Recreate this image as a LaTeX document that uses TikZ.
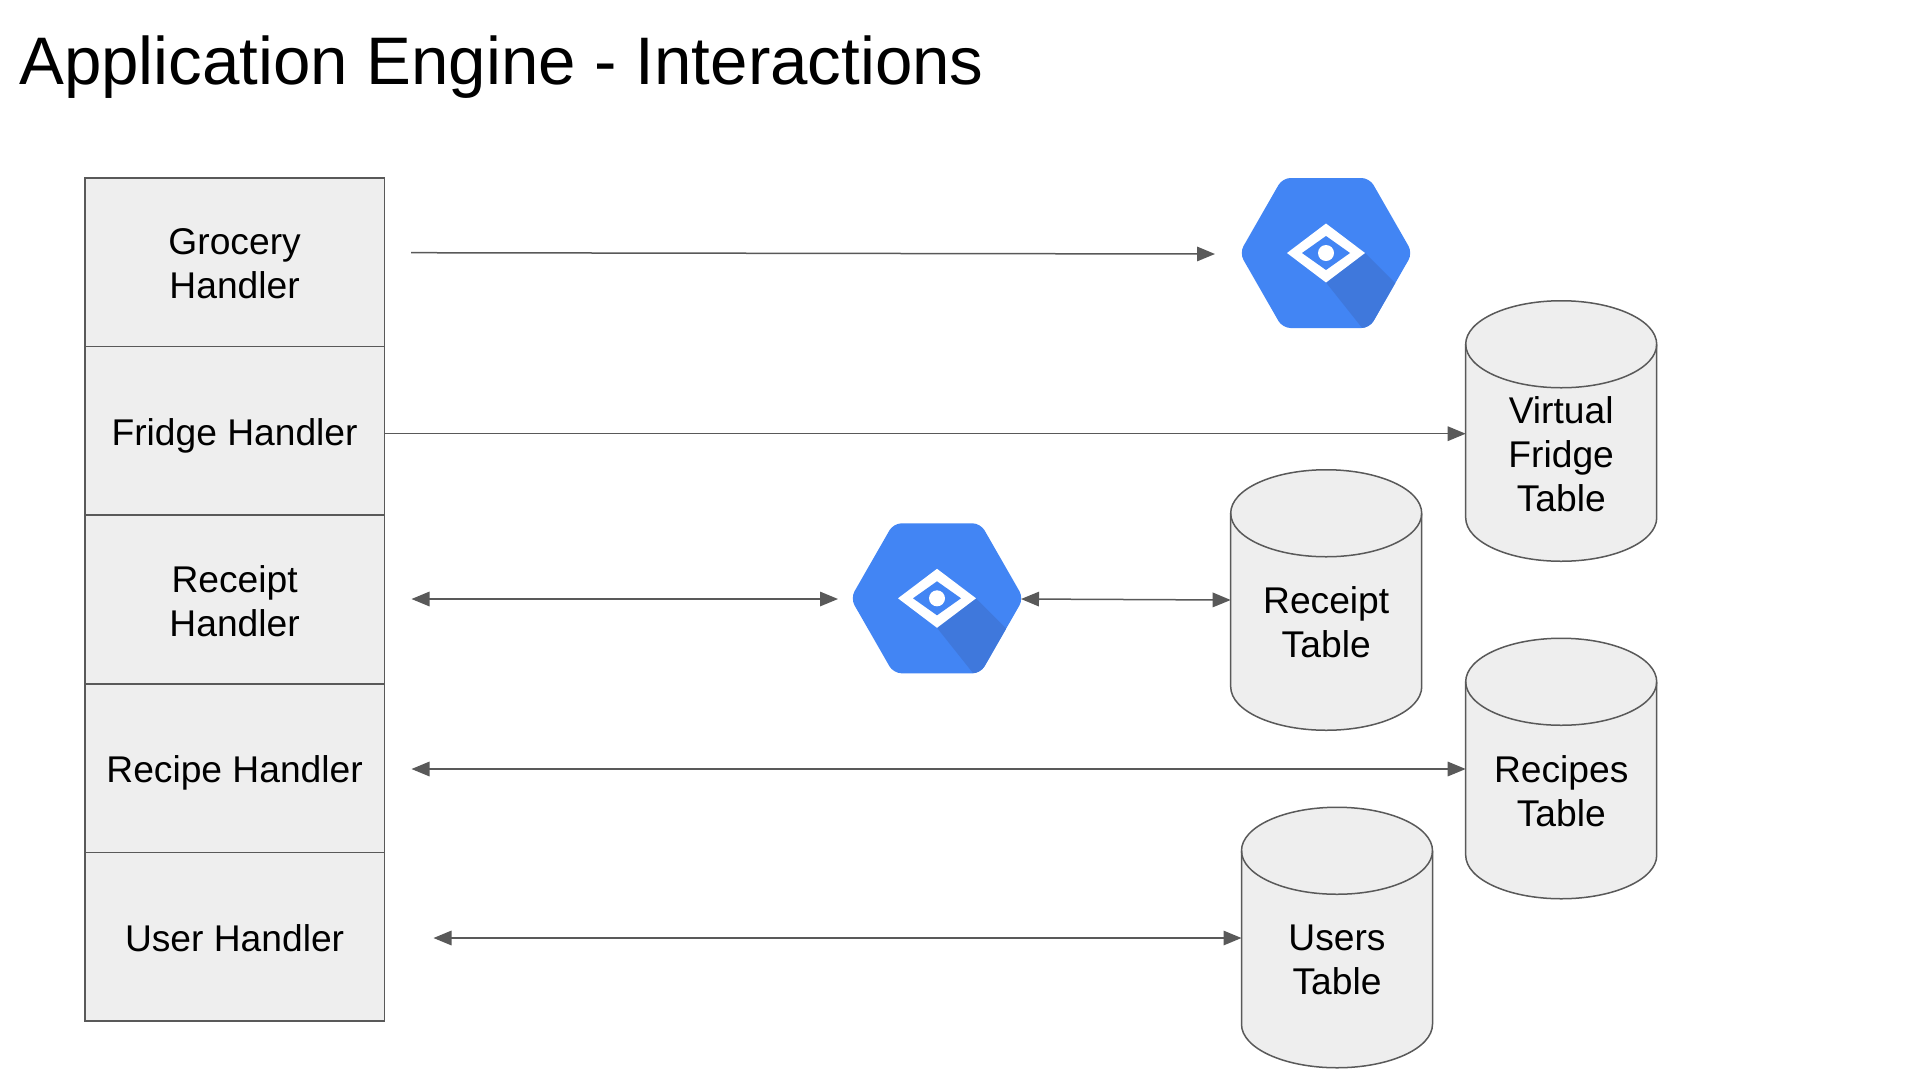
\documentclass[tikz,border=0pt]{standalone}
\usepackage{fontspec}
\setmainfont{Liberation Sans}
\usetikzlibrary{arrows.meta}
\definecolor{edgegrey}{HTML}{595959}
\definecolor{cellfill}{HTML}{EEEEEE}
\definecolor{hexblue}{HTML}{4285F4}
\definecolor{hexshade}{HTML}{3F78DC}
\tikzset{
  handler/.style={draw=edgegrey,fill=cellfill,line width=1.5pt,minimum width=299.5pt,minimum height=168.6pt,
    inner sep=0pt,outer sep=0pt,align=center,font=\fontsize{37.2}{44}\selectfont,text=black,
    text height=29pt,text depth=0pt},
  handlertwo/.style={handler,text height=73pt},
  dbanchor/.style={rectangle,minimum width=191pt,minimum height=260.5pt,inner sep=0pt,outer sep=0pt},
  dbtext/.style={inner sep=0pt,align=center,font=\fontsize{37.2}{44}\selectfont,text=black},
  hexanchor/.style={circle,minimum size=168pt,inner sep=0pt,outer sep=0pt},
  link/.style={draw=edgegrey,line width=1.5pt},
  oneway/.style={link,-{Triangle[length=18pt,width=14.5pt]}},
  twoway/.style={link,{Triangle[length=18pt,width=14.5pt]}-{Triangle[length=18pt,width=14.5pt]}},
  dbdrum/.pic={
    \filldraw[draw=edgegrey,fill=cellfill,line width=1.5pt]
      (-95.5,-86.75) -- (-95.5,86.75)
      .. controls (-95.5,110.77) and (-52.74,130.25) .. (0,130.25)
      .. controls (52.74,130.25) and (95.5,110.77) .. (95.5,86.75)
      -- (95.5,-86.75)
      .. controls (95.5,-110.77) and (52.74,-130.25) .. (0,-130.25)
      .. controls (-52.74,-130.25) and (-95.5,-110.77) .. (-95.5,-86.75) -- cycle;
    \draw[draw=edgegrey,line width=1.5pt]
      (-95.5,-86.75)
      .. controls (-95.5,-62.73) and (-52.74,-43.25) .. (0,-43.25)
      .. controls (52.74,-43.25) and (95.5,-62.73) .. (95.5,-86.75);
  },
  hexicon/.pic={
    \def\hexpath{(-86.5,0) -- (-43.5,-75) -- (43.5,-75) -- (86.5,0) -- (43.5,75) -- (-43.5,75) -- cycle}
    \fill[hexblue,rounded corners=8pt] \hexpath;
    \begin{scope}
      \clip[rounded corners=8pt] \hexpath;
      \fill[hexshade] (39,0) -- (110,71) -- (110,76) -- (37,76) -- (0,29.5) -- cycle;
    \end{scope}
    \fill[white] (-39,0) -- (0,-29.5) -- (39,0) -- (0,29.5) -- cycle;
    \fill[hexblue] (-24,0) -- (0,-17) -- (24,0) -- (0,17) -- cycle;
    \fill[white] (0,0) circle (8);
  }
}
\begin{document}
\begin{tikzpicture}[x=1pt,y=-1pt]
\useasboundingbox (0,0) rectangle (1920,1080);
\fill[white] (0,0) rectangle (1920,1080);

\node[anchor=base west,inner sep=0pt,font=\fontsize{67.25}{80}\selectfont,text=black] (title) at (19,84) {Application Engine - Interactions};

\node[handlertwo] (grocery) at (234.6,262.3) {Grocery\\Handler};
\node[handler] (fridge)  at (234.6,430.9) {Fridge Handler};
\node[handlertwo] (receipt) at (234.6,599.5) {Receipt\\Handler};
\node[handler] (recipe)  at (234.6,768.1) {Recipe Handler};
\node[handler] (user)    at (234.6,936.7) {User Handler};

\node[dbanchor] (vf) at (1561.2,431) {};
\node[dbanchor] (rt) at (1326.2,600) {};
\node[dbanchor] (rp) at (1561.2,768.5) {};
\node[dbanchor] (ut) at (1337,937.5) {};
\pic at (vf) {dbdrum};
\pic at (rt) {dbdrum};
\pic at (rp) {dbdrum};
\pic at (ut) {dbdrum};
\node[dbtext] (vftext) at (1561.2,454.3) {Virtual\\Fridge\\Table};
\node[dbtext] (rttext) at (1326.2,622) {Receipt\\Table};
\node[dbtext] (rptext) at (1561.2,791) {Recipes\\Table};
\node[dbtext] (uttext) at (1337,960) {Users\\Table};

\node[hexanchor] (hexa) at (1326,253) {};
\node[hexanchor] (hexb) at (937,598.3) {};
\pic at (hexa) {hexicon};
\pic at (hexb) {hexicon};

\coordinate (g0) at (411,252.7);
\coordinate (g1) at (1215,254);
\coordinate (r0) at (411.5,599);
\coordinate (r1) at (838,599);
\coordinate (p0) at (411.5,769);
\coordinate (u0) at (433.5,938);

\draw[oneway] (g0) -- (g1);
\draw[oneway] (fridge.east |- 0,433.7) -- (vf.west |- 0,433.7);
\draw[twoway] (r0) -- (r1);
\draw[twoway] (hexb.east |- 0,599) -- (rt.west |- 0,600);
\draw[twoway] (p0) -- (rp.west |- p0);
\draw[twoway] (u0) -- (ut.west |- u0);
\end{tikzpicture}
\end{document}
